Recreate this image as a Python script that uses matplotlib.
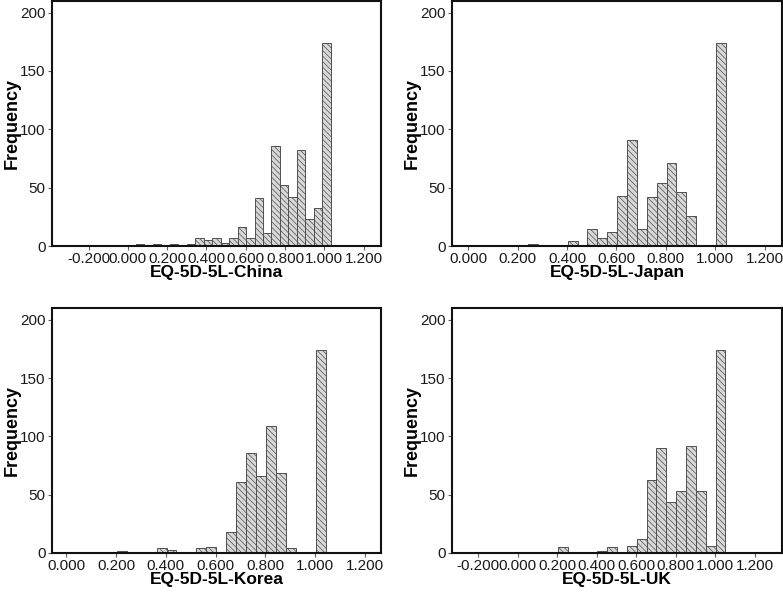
import matplotlib.pyplot as plt
import numpy as np
from matplotlib.ticker import MultipleLocator, FormatStrFormatter

plt.rcParams['font.family'] = ['Liberation Sans', 'DejaVu Sans']
plt.rcParams['hatch.linewidth'] = 0.5
plt.rcParams['hatch.color'] = '#707070'

# histogram counts (bin start, bin width, counts)
china_start, china_width = -0.306, 0.0432
china_counts = [1, 0, 1, 0, 0, 0, 0, 1, 2, 0, 2, 0, 2, 1, 2, 7, 5, 7, 3, 7, 16, 7,
                41, 11, 86, 52, 42, 82, 23, 33, 174]

japan_start, japan_width = 0.043, 0.040
japan_counts = [1, 0, 1, 0, 0, 2, 1, 1, 1, 4, 1, 15, 7, 12, 43, 91, 15, 42, 54, 71,
                46, 26, 0, 0, 174]

korea_start, korea_width = 0.003, 0.040
korea_counts = [1, 0, 0, 0, 0, 2, 0, 0, 0, 4, 3, 1, 1, 4, 5, 0, 18, 61, 86, 66, 109,
                69, 4, 0, 0, 174]

uk_start, uk_width = -0.2475, 0.050
uk_counts = [1, 1, 0, 0, 0, 0, 0, 0, 0, 5, 0, 1, 0, 2, 5, 0, 6, 12, 63, 90, 44, 53,
             92, 53, 6, 174]

panels = [
    ('EQ-5D-5L-China', china_start, china_width, china_counts, (-0.386, 1.288)),
    ('EQ-5D-5L-Japan', japan_start, japan_width, japan_counts, (-0.065, 1.270)),
    ('EQ-5D-5L-Korea', korea_start, korea_width, korea_counts, (-0.058, 1.266)),
    ('EQ-5D-5L-UK', uk_start, uk_width, uk_counts, (-0.334, 1.339)),
]

W, H = 783, 596
fig = plt.figure(figsize=(W / 100, H / 100), dpi=100)
# axes boxes in pixels: left, top, right, bottom
boxes = [(52, 1, 381, 246), (452, 1, 782, 246), (52, 308, 381, 553), (452, 308, 782, 553)]

for (label, start, width, counts, xlim), (l, t, r, b) in zip(panels, boxes):
    ax = fig.add_axes([l / W, (H - b) / H, (r - l) / W, (b - t) / H])
    counts = np.array(counts)
    lefts = start + width * np.arange(len(counts))
    keep = counts > 0
    ax.bar(lefts[keep], counts[keep], width=width, align='edge', color='#d8d8d8',
           edgecolor='#505050', linewidth=0.7, hatch='\\\\\\\\\\\\')
    ax.set_xlim(*xlim)
    ax.set_ylim(0, 210)
    ax.xaxis.set_major_locator(MultipleLocator(0.2))
    ax.xaxis.set_major_formatter(FormatStrFormatter('%.3f'))
    ax.yaxis.set_major_locator(MultipleLocator(50))
    ax.tick_params(axis='both', direction='out', length=3, width=0.8, color='#606060',
                   labelsize=11, labelcolor='#1a1a1a', pad=1.5)
    for s in ax.spines.values():
        s.set_linewidth(1.5)
        s.set_color('#111111')
    ax.set_xlabel(label, fontsize=12.5, fontweight='bold', labelpad=-1)
    ax.set_ylabel('Frequency', fontsize=13, fontweight='bold')
    ax.yaxis.set_label_coords(-31 / (r - l), 0.5)

fig.savefig('out.png', dpi=100)
